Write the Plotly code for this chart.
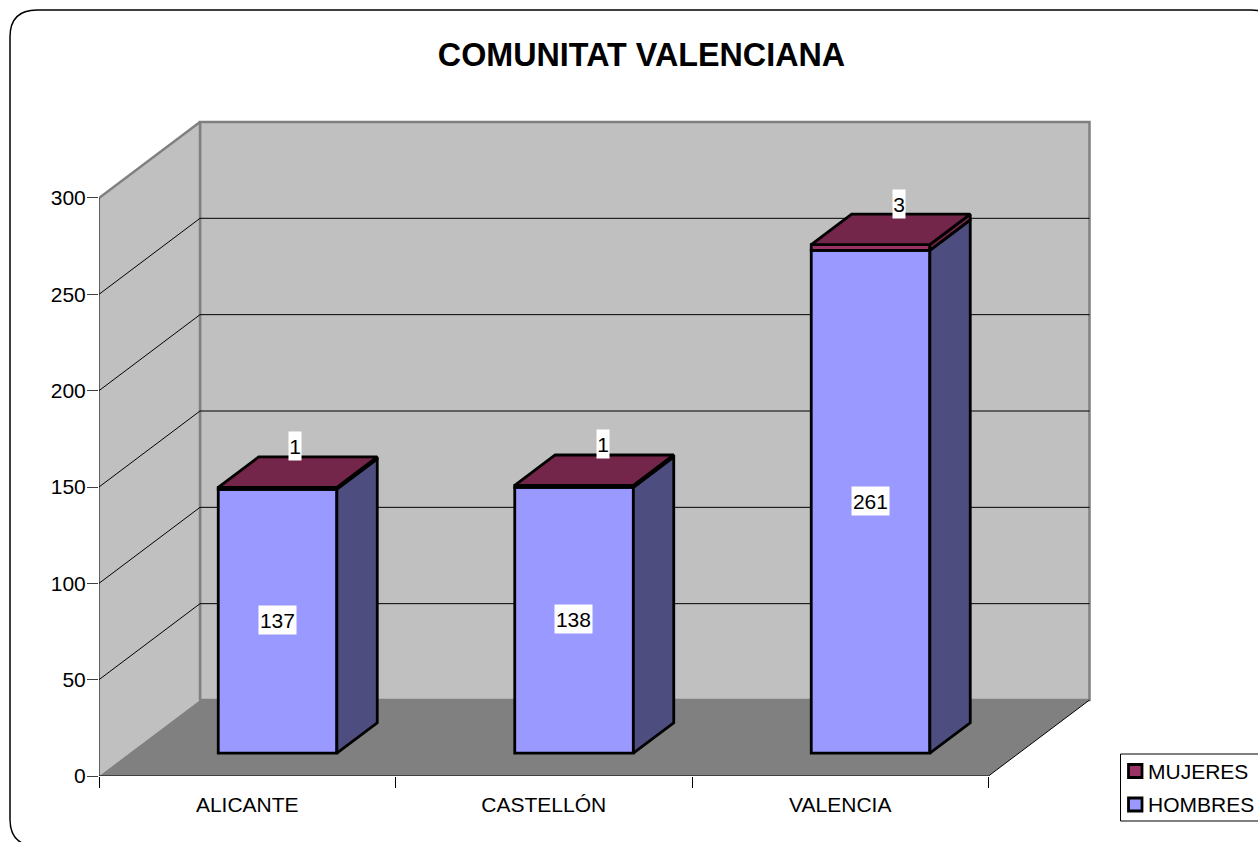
import plotly.graph_objects as go

CATEGORIES = ["ALICANTE", "CASTELLÓN", "VALENCIA"]
HOMBRES = [137, 138, 261]
MUJERES = [1, 1, 3]
Y_TICKS = [0, 50, 100, 150, 200, 250, 300]

FONT = "Liberation Sans"
W, H = 1258, 842
# Plot area is a little larger than the 3-D box so its edge lines are not clipped
L, R, T, B = 99, 1100, 110, 776
X_UNIT = 296.5
Y_UNIT = 1.9267
DX = 101 / X_UNIT
DY = 76 / Y_UNIT
Y_MAX = 300
BAR_W = 0.4
D0, D1 = 0.3, 0.7
EDGE = dict(color="#808080", width=2.5)
BAR_LINE = dict(color="black", width=2.8)


def px(x):
    return (x - L) / (R - L)


def py(y):
    return (B - y) / (B - T)


def path(points):
    return "M " + " L ".join(f"{x} {y}" for x, y in points) + " Z"


fig = go.Figure()
shapes = []
# Back wall and left wall, then the floor over their lower edges
shapes.append(dict(type="path", xref="x", yref="y", layer="below",
                   path=path([(DX, DY), (DX, Y_MAX + DY), (3 + DX, Y_MAX + DY), (3 + DX, DY)]),
                   fillcolor="#C0C0C0", line=EDGE))
shapes.append(dict(type="path", xref="x", yref="y", layer="below",
                   path=path([(0, 0), (DX, DY), (DX, Y_MAX + DY), (0, Y_MAX)]),
                   fillcolor="#C0C0C0", line=dict(width=0)))
shapes.append(dict(type="line", xref="x", yref="y", layer="below",
                   x0=0, y0=Y_MAX, x1=DX, y1=Y_MAX + DY, line=EDGE))
shapes.append(dict(type="line", xref="x", yref="y", layer="below",
                   x0=DX, y0=DY, x1=DX, y1=Y_MAX + DY, line=EDGE))
shapes.append(dict(type="path", xref="x", yref="y", layer="below",
                   path=path([(0, 0), (DX, DY), (3 + DX, DY), (3, 0)]),
                   fillcolor="#808080", line=dict(width=0)))
# Gridlines on both walls
for v in Y_TICKS[1:-1]:
    shapes.append(dict(type="line", xref="x", yref="y", layer="below",
                       x0=0, y0=v, x1=DX, y1=v + DY, line=dict(color="black", width=1)))
    shapes.append(dict(type="line", xref="x", yref="y", layer="below",
                       x0=DX, y0=v + DY, x1=3 + DX, y1=v + DY, line=dict(color="black", width=1)))
# Axis lines and floor edge
for a, b in [((0, 0), (0, Y_MAX)), ((0, 0), (3, 0)), ((3, 0), (3 + DX, DY))]:
    shapes.append(dict(type="line", xref="x", yref="y", layer="above",
                       x0=a[0], y0=a[1], x1=b[0], y1=b[1], line=dict(color="black", width=1)))

# Rounded outer frame, running past the canvas on the right and bottom
fx0, fy0, fx1, fy1, r = 10, 10, 1278, 846, 27
frame = (f"M {px(fx0 + r)} {py(fy0)} L {px(fx1 - r)} {py(fy0)} "
         f"Q {px(fx1)} {py(fy0)} {px(fx1)} {py(fy0 + r)} L {px(fx1)} {py(fy1 - r)} "
         f"Q {px(fx1)} {py(fy1)} {px(fx1 - r)} {py(fy1)} L {px(fx0 + r)} {py(fy1)} "
         f"Q {px(fx0)} {py(fy1)} {px(fx0)} {py(fy1 - r)} L {px(fx0)} {py(fy0 + r)} "
         f"Q {px(fx0)} {py(fy0)} {px(fx0 + r)} {py(fy0)} Z")
shapes.append(dict(type="path", xref="paper", yref="paper", layer="below", path=frame,
                   fillcolor="rgba(0,0,0,0)", line=dict(color="black", width=1.5)))

# Legend
shapes.append(dict(type="rect", xref="paper", yref="paper", x0=px(1120.5), x1=px(1270),
                   y0=py(754), y1=py(821), fillcolor="white", line=dict(color="black", width=1)))
legend_rows = [("MUJERES", "#993366", 771), ("HOMBRES", "#9999FF", 804.5)]
annotations = []
for name, color, yc in legend_rows:
    shapes.append(dict(type="rect", xref="paper", yref="paper",
                       x0=px(1128.5), x1=px(1142), y0=py(yc - 6.5), y1=py(yc + 6.5),
                       fillcolor=color, line=BAR_LINE))
    annotations.append(dict(xref="paper", yref="paper", x=px(1145.5), y=py(yc), text=name,
                            showarrow=False, xanchor="left", yanchor="middle",
                            font=dict(family=FONT, size=21, color="black")))

front_x = [i + 0.5 + D0 * DX for i in range(3)]
base_y = D0 * DY
depth_x = (D1 - D0) * DX
depth_y = (D1 - D0) * DY

fig.add_trace(go.Bar(x=front_x, y=HOMBRES, base=[base_y] * 3, width=BAR_W, name="HOMBRES",
                     marker=dict(color="#9999FF", line=BAR_LINE), showlegend=False))
fig.add_trace(go.Bar(x=front_x, y=MUJERES, base=[base_y + h for h in HOMBRES], width=BAR_W,
                     name="MUJERES", marker=dict(color="#993366", line=BAR_LINE),
                     showlegend=False))


def poly(xs, ys, color):
    fig.add_trace(go.Scatter(x=xs, y=ys, mode="lines", fill="toself", fillcolor=color,
                             line=BAR_LINE, showlegend=False, hoverinfo="skip"))


for i, x in enumerate(front_x):
    xr = x + BAR_W / 2
    xl = x - BAR_W / 2
    y1 = base_y + HOMBRES[i]
    y2 = y1 + MUJERES[i]
    poly([xr, xr + depth_x, xr + depth_x, xr, xr],
         [base_y, base_y + depth_y, y1 + depth_y, y1, base_y], "#4D4D80")
    poly([xr, xr + depth_x, xr + depth_x, xr, xr],
         [y1, y1 + depth_y, y2 + depth_y, y2, y1], "#732649")
    poly([xl, xl + depth_x, xr + depth_x, xr, xl],
         [y2, y2 + depth_y, y2 + depth_y, y2, y2], "#732649")

# Data labels
TOP_LABEL_DX = [17.5 / X_UNIT, 28.5 / X_UNIT, 28 / X_UNIT]
TOP_LABEL_DY = 41 / Y_UNIT
label_font = dict(family=FONT, size=21, color="black")


def label(x, y, value):
    text = str(value)
    annotations.append(dict(x=x, y=y, text=text, showarrow=False, bgcolor="white", borderpad=0,
                            font=label_font, width=12.3 * len(text), height=28))


for i, x in enumerate(front_x):
    label(x - 0.5 / X_UNIT, base_y + HOMBRES[i] / 2 + 1 / Y_UNIT, HOMBRES[i])
    label(x + TOP_LABEL_DX[i], base_y + HOMBRES[i] + MUJERES[i] + TOP_LABEL_DY, MUJERES[i])

fig.update_layout(
    width=W, height=H,
    margin=dict(l=L, r=W - R, t=T, b=H - B, pad=0),
    paper_bgcolor="white", plot_bgcolor="rgba(0,0,0,0)",
    barmode="overlay", showlegend=False,
    font=dict(family=FONT, size=21, color="black"),
    title=dict(text="<b>COMUNITAT VALENCIANA</b>", x=641.5 / W, xref="container", xanchor="center",
               y=1 - 55 / H, yref="container", yanchor="middle",
               font=dict(family=FONT, size=32.3, color="black")),
    shapes=shapes, annotations=annotations,
    xaxis=dict(range=[0, (R - L) / X_UNIT], tickmode="array", tickvals=[0.5, 1.5, 2.5],
               ticktext=CATEGORIES, ticks="", showgrid=False, zeroline=False, showline=False,
               ticklabelstandoff=14,
               minor=dict(tickmode="array", tickvals=[0, 1, 2, 3], ticks="outside", ticklen=11,
                          tickcolor="black", tickwidth=1, showgrid=False),
               tickfont=dict(family=FONT, size=21)),
    yaxis=dict(range=[0, (B - T) / Y_UNIT], tickmode="array", tickvals=Y_TICKS,
               ticks="outside", ticklen=11, tickcolor="#404040", tickwidth=1,
               ticklabelstandoff=-3,
               showgrid=False, zeroline=False, showline=False,
               tickfont=dict(family=FONT, size=21)),
    hovermode=False,
)

fig.write_html("out.html", config=dict(displayModeBar=False),
               post_script="document.body.style.margin='0';document.body.style.overflow='hidden';")
